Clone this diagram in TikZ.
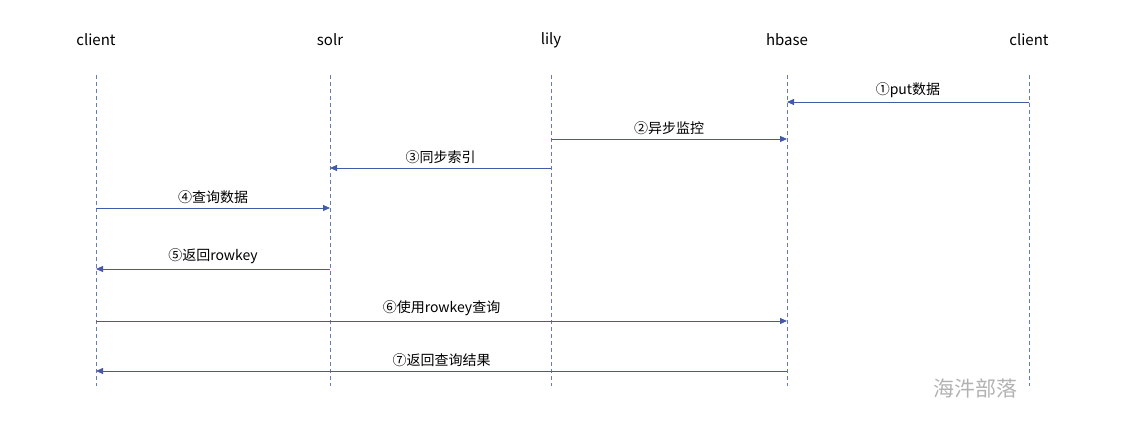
\documentclass[tikz,border=0pt]{standalone}
\usepackage{fontspec}
\setmainfont{Noto Sans CJK SC}
\usetikzlibrary{arrows.meta}
\definecolor{ln}{HTML}{3F5BA9}
\begin{document}
\begin{tikzpicture}[x=1pt,y=-1pt,
  lane/.style={font=\fontsize{15}{17}\selectfont},
  life/.style={draw=ln!80,dash pattern=on 4pt off 3pt,line width=0.8pt},
  msg/.style={draw=ln,line width=0.8pt,-{Triangle[length=7pt,width=6pt]}},
  lbl/.style={font=\fontsize{14}{16}\selectfont,above=1pt,midway}]
\useasboundingbox (0,0) rectangle (1123,435);
\foreach \n/\x/\t in {c1/96/client,s/330/solr,l/551/lily,h/787/hbase,c2/1029/client}{
  \node[lane] (\n) at (\x,40) {\t};
  \coordinate (\n t) at (\x,75);
  \coordinate (\n b) at (\x,386);
  \draw[life] (\n t) -- (\n b);
}
\foreach \a/\b/\y/\t in {c2/h/102/①put数据,l/h/139/②异步监控,l/s/168/③同步索引,c1/s/208/④查询数据,s/c1/269/⑤返回rowkey,c1/h/321/⑥使用rowkey查询,h/c1/371/⑦返回查询结果}{
  \coordinate (A) at (\a t |- 0,\y);
  \coordinate (B) at (\b t |- 0,\y);
  \draw[msg] (A) -- node[lbl]{\t} (B);
}
\node[font=\fontsize{21}{23}\selectfont,text=gray!60] (wm) at (975,388) {海汼部落};
\end{tikzpicture}
\end{document}
